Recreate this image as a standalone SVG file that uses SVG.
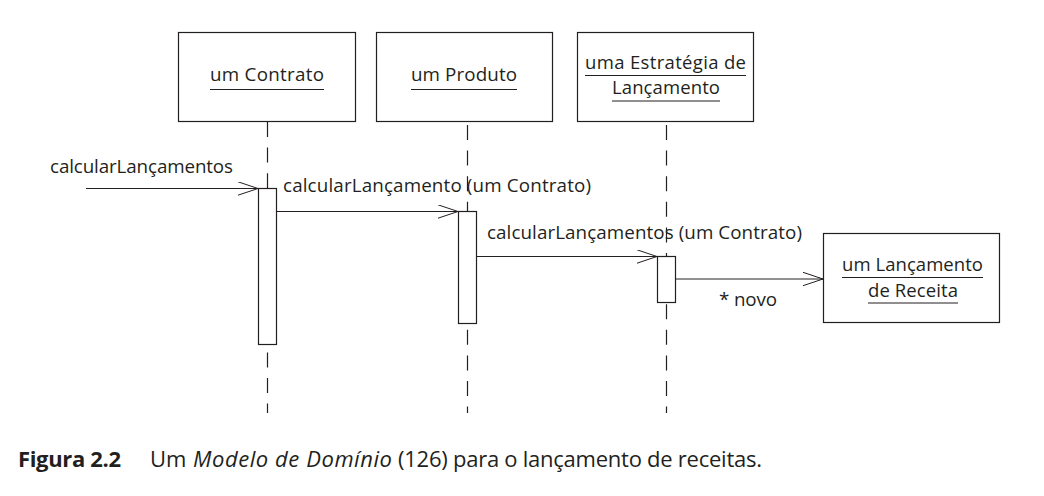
<svg xmlns="http://www.w3.org/2000/svg" width="1044" height="496" viewBox="0 0 1044 496">
<style>
.box{fill:#fff;stroke:#231f20;stroke-width:1.2}
.act{fill:#fff;stroke:#231f20;stroke-width:1.2}
.life{stroke:#231f20;stroke-width:1.2;stroke-dasharray:15 10.6;fill:none}
.msg{stroke:#231f20;stroke-width:1;fill:none}
.ul{stroke:#231f20;stroke-width:1.2}
text{font-family:"Open Sans","Noto Sans","Liberation Sans",sans-serif;fill:#231f20;font-size:18.8px}
.c{text-anchor:middle}
.two{font-size:18.5px}
.cap{font-size:22px}
</style>
<defs>
<marker id="open" markerUnits="userSpaceOnUse" markerWidth="22" markerHeight="16" refX="20" refY="7" orient="auto" viewBox="0 0 22 16">
<path d="M0,0.3 L20,7 L0,13.7" fill="none" stroke="#231f20" stroke-width="1"/>
</marker>
</defs>
<g id="lifelines">
<line class="life" x1="267.5" y1="122" x2="267.5" y2="413"/>
<line class="life" x1="467.5" y1="125" x2="467.5" y2="413"/>
<line class="life" x1="666.5" y1="125" x2="666.5" y2="413"/>
</g>
<g id="contrato">
<rect class="box" x="178.5" y="32.5" width="177" height="89"/>
<text class="c" x="267" y="81" textLength="114" lengthAdjust="spacing">um Contrato</text>
<line class="ul" x1="210" y1="89.5" x2="324" y2="89.5"/>
</g>
<g id="produto">
<rect class="box" x="376.5" y="32.5" width="176" height="89"/>
<text class="c" x="464" y="81" textLength="106" lengthAdjust="spacing">um Produto</text>
<line class="ul" x1="411" y1="89.5" x2="517" y2="89.5"/>
</g>
<g id="estrategia">
<rect class="box" x="577.5" y="32.5" width="176" height="89"/>
<text class="c two" x="665.5" y="68.5" textLength="161" lengthAdjust="spacing">uma Estratégia de</text>
<line class="ul" x1="585" y1="75.5" x2="746" y2="75.5"/>
<text class="c two" x="666" y="94" textLength="108" lengthAdjust="spacing">Lançamento</text>
<line class="ul" x1="612" y1="101" x2="720" y2="101"/>
</g>
<g id="lancamento-receita">
<rect class="box" x="823.5" y="233.5" width="176" height="89"/>
<text class="c two" x="912.5" y="271" textLength="141" lengthAdjust="spacing">um Lançamento</text>
<line class="ul" x1="842" y1="277.5" x2="983" y2="277.5"/>
<text class="c two" x="913" y="296.5" textLength="90" lengthAdjust="spacing">de Receita</text>
<line class="ul" x1="868" y1="303" x2="958" y2="303"/>
</g>
<g id="activations">
<rect class="act" x="258.5" y="188.5" width="18" height="156"/>
<rect class="act" x="458.5" y="211.5" width="18" height="112"/>
<rect class="act" x="657.5" y="256.5" width="18" height="46"/>
</g>
<g id="connectors">
<line class="msg" x1="86" y1="188.5" x2="258" y2="188.5" marker-end="url(#open)"/>
<line class="msg" x1="276.5" y1="211.5" x2="458" y2="211.5" marker-end="url(#open)"/>
<line class="msg" x1="476.5" y1="256.5" x2="657" y2="256.5" marker-end="url(#open)"/>
<line class="msg" x1="675.5" y1="279" x2="823" y2="279" marker-end="url(#open)"/>
<text x="50" y="172.5" textLength="183" lengthAdjust="spacing">calcularLançamentos</text>
<text x="283" y="192" textLength="308" lengthAdjust="spacing">calcularLançamento (um Contrato)</text>
<text x="487" y="239" textLength="315" lengthAdjust="spacing">calcularLançamentos (um Contrato)</text>
<text x="719" y="306" textLength="58" lengthAdjust="spacing">* novo</text>
</g>
<g id="caption">
<text class="cap" x="18" y="467" font-weight="bold" textLength="103" lengthAdjust="spacing">Figura 2.2</text>
<text class="cap" x="150" y="467">Um</text>
<text class="cap" x="193" y="467" font-style="italic" textLength="199" lengthAdjust="spacing">Modelo de Domínio</text>
<text class="cap" x="398" y="467" textLength="364" lengthAdjust="spacing">(126) para o lançamento de receitas.</text>
</g>
</svg>
